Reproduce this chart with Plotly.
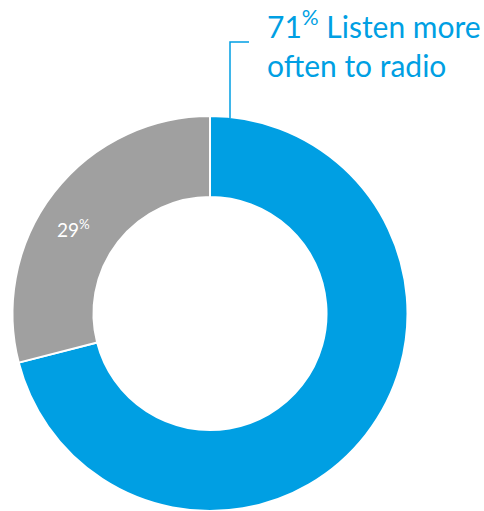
import plotly.graph_objects as go

labels = ["Listen more often to radio", "Other"]
values = [71, 29]
colors = ["#009FE3", "#A0A0A0"]

W, H = 484, 511
def px(x): return x / W
def py(y): return 1 - y / H

fig = go.Figure(go.Pie(
    labels=labels, values=values, sort=False, direction="clockwise", rotation=0,
    hole=0.59, marker=dict(colors=colors, line=dict(color="white", width=2)),
    textinfo="none", hoverinfo="label+percent", showlegend=False,
    domain=dict(x=[px(12), px(408)], y=[0, py(116)]),
))

fig.add_annotation(x=px(265), y=py(2), xref="paper", yref="paper", xanchor="left", yanchor="top",
                   text=f"{values[0]}<sup>%</sup> Listen more<br>often to radio", align="left", showarrow=False,
                   font=dict(family="Lato", size=30, color=colors[0]))
fig.add_annotation(x=px(73), y=py(229), xref="paper", yref="paper", xanchor="center", yanchor="middle",
                   text=f"{values[1]}<sup>%</sup>", showarrow=False,
                   font=dict(family="Lato", size=19, color="white"))
fig.add_shape(type="path", xref="paper", yref="paper",
              path=f"M {px(249)} {py(42)} L {px(230)} {py(42)} L {px(230)} {py(118)}",
              line=dict(color=colors[0], width=1.5))

fig.update_layout(width=W, height=H, margin=dict(l=0, r=0, t=0, b=0),
                  paper_bgcolor="white", plot_bgcolor="white")
fig.write_html("out.html", config={"displayModeBar": False},
               post_script="document.body.style.margin='0';")
